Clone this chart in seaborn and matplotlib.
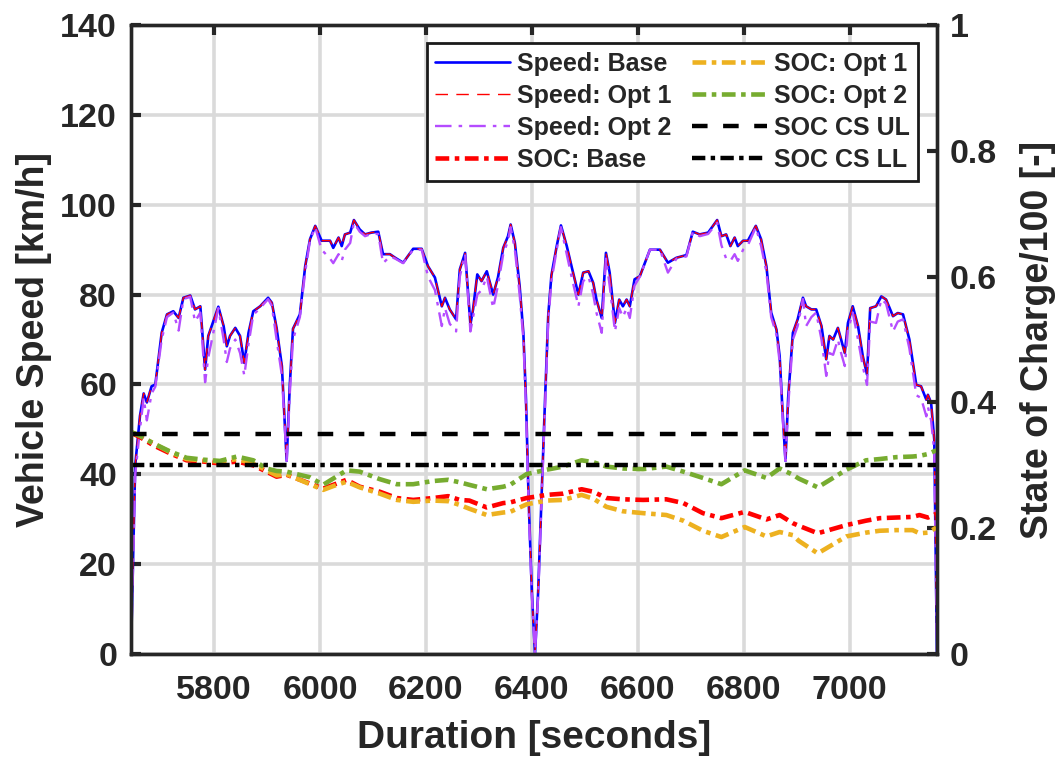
import matplotlib
matplotlib.use("Agg")
import matplotlib.pyplot as plt
import seaborn as sns

# ---- speed trace [km/h] ----
time_s = [5643, 5651, 5660, 5667, 5673, 5682, 5689, 5701, 5711, 5723, 5733, 5742, 5755, 5764,
          5774, 5783, 5789, 5808, 5818, 5824, 5830, 5840, 5849, 5857, 5865, 5874, 5887, 5902,
          5909, 5918, 5928, 5937, 5943, 5949, 5962, 5972, 5981, 5991, 6003, 6019, 6025, 6035,
          6041, 6047, 6057, 6064, 6075, 6085, 6097, 6110, 6119, 6132, 6142, 6157, 6176, 6192,
          6204, 6217, 6230, 6236, 6245, 6257, 6264, 6274, 6284, 6289, 6297, 6305, 6315, 6327,
          6336, 6346, 6355, 6360, 6368, 6377, 6384, 6389, 6394, 6400, 6406, 6412, 6418, 6425,
          6431, 6437, 6447, 6455, 6466, 6475, 6488, 6497, 6507, 6516, 6522, 6532, 6540, 6547,
          6557, 6565, 6572, 6579, 6585, 6594, 6604, 6623, 6642, 6657, 6673, 6692, 6704, 6717,
          6733, 6750, 6758, 6767, 6775, 6783, 6789, 6799, 6808, 6823, 6833, 6843, 6852, 6862,
          6868, 6874, 6879, 6884, 6893, 6902, 6912, 6918, 6928, 6937, 6947, 6956, 6962, 6969,
          6978, 6984, 6991, 6997, 7006, 7016, 7025, 7033, 7039, 7050, 7060, 7069, 7082, 7091,
          7101, 7113, 7126, 7135, 7145, 7148, 7154, 7160, 7165]
speed_base = [0, 42, 53, 58, 56, 59.6, 60, 71.5, 75.6, 76.3, 74.8, 79.3, 79.8, 76.7,
              77.4, 63.3, 70.8, 77.3, 73.0, 68.5, 70.8, 72.6, 70.8, 64.8, 71.5, 76.3, 77.4, 79.3,
              78.2, 72.6, 64.1, 43, 60, 72.4, 75.6, 86.3, 92.3, 95.3, 92, 92, 90.4, 92.7,
              90.8, 93.4, 93.8, 96.6, 94.5, 93.4, 93.8, 94, 89, 89, 88.2, 87.1, 90.2, 90.2,
              86.3, 83.8, 77.4, 79.3, 76.7, 74.5, 85.6, 89.3, 73.4, 76.7, 84.5, 83, 85.2, 80,
              83.8, 90.4, 93, 95.6, 91.5, 81.9, 71.5, 56.6, 34.3, 14, 0, 14, 34, 56.8,
              75.4, 84.3, 90.8, 95.4, 90.8, 86.3, 80, 84.9, 85.2, 82.6, 78.9, 74.8, 89.3, 84.9,
              73.7, 78.9, 77.4, 78.9, 77.4, 83.4, 84.1, 90, 90, 87.1, 88.2, 88.8, 94, 93.4,
              93.8, 96.6, 93, 93.4, 90.8, 92.7, 90.8, 92, 92, 95.3, 92.3, 86.3, 76, 72.2,
              66.3, 52.9, 43, 56.9, 71.5, 74.5, 79.3, 77.4, 76.7, 76.7, 73, 65.6, 70.8, 70,
              72.6, 70, 67, 73.7, 77.4, 73, 66.3, 62.2, 77, 77.4, 79.6, 78.9, 75.2, 75.9,
              75.6, 70, 59.9, 59.6, 56.6, 57.7, 55.9, 47.7, 0]
speed_opt1 = list(speed_base)  # lies on top of the base trace
speed_opt2 = [0, 40, 50, 57, 52, 58, 59.5, 70, 75, 76, 72, 79, 79.5, 74,
              76, 60.5, 66, 77, 70, 65, 68, 70, 67, 62, 69, 75.5, 77, 79,
              77.5, 70, 62, 43, 58, 70, 75, 85, 92, 95, 90, 88, 87, 89,
              87.5, 90, 91.5, 96, 94, 93, 93.5, 93.5, 87, 88.5, 88, 87, 90, 90,
              84, 81, 73, 77, 73.5, 71.8, 84, 89, 71.8, 75, 80, 81, 84, 77,
              82, 89, 92, 95, 90, 80, 70, 55, 33, 13, 0, 13, 33, 55,
              74, 83, 90, 95, 89, 84, 77.4, 83, 84, 80, 76, 71.5, 88, 82,
              71.8, 77, 75, 77, 74.8, 82, 84, 90, 90, 84.9, 88, 88.5, 94, 93,
              93.5, 96, 91, 88, 87.5, 89, 87.5, 90, 91, 95, 90.8, 85, 75, 71,
              65, 52, 43, 55, 70, 73, 79, 73, 75, 76, 70, 61.9, 67, 66.6,
              70, 67, 64.1, 72, 76, 70, 64, 59.9, 74, 73.7, 79, 78, 71.8, 74,
              74.5, 68, 57.6, 57, 52.9, 55, 52, 45, 0]

# ---- state of charge [-] ----
soc_time = [5643, 5660, 5685, 5717, 5748, 5780, 5811, 5843, 5874, 5899, 5918, 5937, 5956, 5981,
            6006, 6025, 6050, 6075, 6113, 6145, 6176, 6213, 6242, 6264, 6282, 6315, 6346, 6359,
            6390, 6428, 6459, 6494, 6516, 6541, 6572, 6610, 6654, 6686, 6723, 6758, 6802, 6843,
            6868, 6893, 6904, 6940, 6994, 7031, 7057, 7088, 7119, 7132, 7148, 7164]
soc_base = [.352, .345, .332, .319, .308, .306, .303, .306, .300, .290, .282, .285, .279, .271,
            .263, .269, .277, .266, .258, .248, .245, .248, .251, .245, .244, .233, .240, .241,
            .248, .253, .255, .262, .258, .248, .246, .245, .246, .240, .224, .216, .226, .214,
            .221, .208, .204, .192, .205, .212, .216, .217, .218, .221, .217, .223]
soc_opt1 = [.353, .347, .335, .321, .310, .308, .306, .310, .303, .292, .284, .286, .279, .270,
            .261, .267, .274, .265, .255, .245, .242, .244, .243, .237, .231, .221, .225, .226,
            .238, .244, .245, .253, .247, .234, .227, .224, .221, .212, .196, .186, .202, .187,
            .194, .189, .180, .160, .187, .193, .196, .197, .197, .192, .193, .201]
soc_opt2 = [.353, .347, .335, .322, .312, .309, .307, .314, .308, .295, .291, .290, .286, .281,
            .269, .279, .292, .290, .278, .270, .270, .275, .277, .273, .269, .262, .266, .269,
            .286, .293, .298, .308, .305, .298, .295, .294, .298, .290, .280, .270, .292, .280,
            .295, .285, .279, .265, .293, .308, .310, .313, .314, .315, .318, .324]
soc_cs_ul = 0.35
soc_cs_ll = 0.30
x_range = [5643, 7165]

sns.set_style("white")
plt.rcParams['font.family'] = ['Liberation Sans', 'DejaVu Sans']
plt.rcParams['font.weight'] = 'bold'
plt.rcParams['axes.labelweight'] = 'bold'
plt.rcParams['xtick.direction'] = 'in'
plt.rcParams['ytick.direction'] = 'in'

dark = '#262626'
fig = plt.figure(figsize=(10.57, 7.59), dpi=100)
ax = fig.add_axes([0.1239, 0.1383, 0.7625, 0.8287])
ax2 = ax.twinx()

dashdot = (0, (3, 1.2, 1, 1.2))

# speed on the left axis
sns.lineplot(x=time_s, y=speed_base, ax=ax, color='#0000ff', lw=1.9, label='Speed: Base')
sns.lineplot(x=time_s, y=speed_opt1, ax=ax, color='#ff0000', lw=1.0,
             linestyle=(0, (9, 6)), label='Speed: Opt 1')
sns.lineplot(x=time_s, y=speed_opt2, ax=ax, color='#b54cff', lw=1.7,
             linestyle=(0, (7, 3, 1.5, 3)), label='Speed: Opt 2')

# SOC on the right axis
sns.lineplot(x=soc_time, y=soc_base, ax=ax2, color='#ff0000', lw=3.3,
             linestyle=dashdot, label='SOC: Base')
sns.lineplot(x=soc_time, y=soc_opt1, ax=ax2, color='#edb120', lw=3.3,
             linestyle=dashdot, label='SOC: Opt 1')
sns.lineplot(x=soc_time, y=soc_opt2, ax=ax2, color='#77ac30', lw=3.3,
             linestyle=dashdot, label='SOC: Opt 2')
sns.lineplot(x=x_range, y=[soc_cs_ul, soc_cs_ul], ax=ax2, color='black', lw=3.2,
             linestyle=(0, (3.5, 3.5)), label='SOC CS UL')
sns.lineplot(x=x_range, y=[soc_cs_ll, soc_cs_ll], ax=ax2, color='black', lw=3.2,
             linestyle=dashdot, label='SOC CS LL')

ax.set_xlim(x_range)
ax.set_ylim(0, 140)
ax2.set_ylim(0, 1)
ax.set_xticks(range(5800, 7001, 200))
ax.set_yticks(range(0, 141, 20))
ax2.set_yticks([0, 0.2, 0.4, 0.6, 0.8, 1])
ax2.set_yticklabels(['0', '0.2', '0.4', '0.6', '0.8', '1'])

ax.grid(True, color='#dadada', lw=2.6)
ax.set_axisbelow(True)
ax2.grid(False)

ax.tick_params(axis='both', labelsize=24.5, colors=dark, width=3, length=7,
               top=True, right=False)
ax.tick_params(axis='y', pad=10)
ax.tick_params(axis='x', pad=15)
ax2.tick_params(axis='y', labelsize=24.5, colors=dark, width=3, length=7, pad=9)
for a in (ax, ax2):
    for sp in a.spines.values():
        sp.set_color(dark)
        sp.set_linewidth(2.4)

ax.set_xlabel('Duration [seconds]', fontsize=28, color=dark, labelpad=10)
ax.set_ylabel('Vehicle Speed [km/h]', fontsize=27, color=dark, labelpad=6)
ax2.set_ylabel('State of Charge/100 [-]', fontsize=27, color=dark, labelpad=17)

# one legend for both axes
h1, l1 = ax.get_legend_handles_labels()
h2, l2 = ax2.get_legend_handles_labels()
if ax.get_legend() is not None:
    ax.get_legend().remove()
leg = ax2.legend(h1 + h2, l1 + l2, ncol=2, loc='upper right',
                 bbox_to_anchor=(0.977, 0.971), borderaxespad=0, fontsize=18,
                 frameon=True, fancybox=False, edgecolor='#1a1a1a', framealpha=1,
                 handlelength=3.0, handletextpad=0.28, columnspacing=0.8,
                 labelspacing=0.32, borderpad=0.35)
leg.get_frame().set_linewidth(2)

fig.savefig("out.png", dpi=100)
